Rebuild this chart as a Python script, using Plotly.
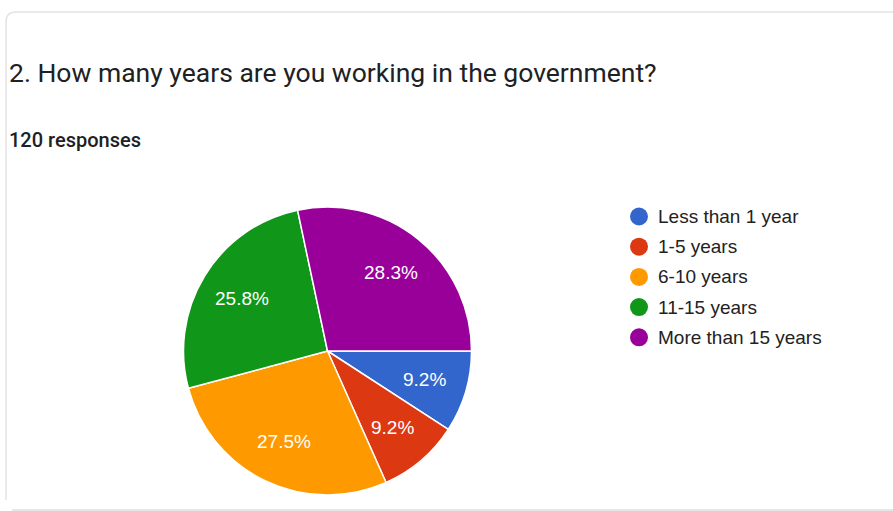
import math
import plotly.graph_objects as go

W, H = 893, 511

labels = ["Less than 1 year", "1-5 years", "6-10 years", "11-15 years", "More than 15 years"]
counts = [11, 11, 33, 31, 34]
colors = ["#3366cc", "#dc3912", "#ff9900", "#109618", "#990099"]
title_text = "2. How many years are you working in the government?"
subtitle_text = "120 responses"


def px(x):
    return x / W


def py(y):
    return 1 - y / H


# pie geometry (pixels)
pie_x0, pie_x1, pie_y0, pie_y1 = 183, 472, 207, 495
cx, cy = (pie_x0 + pie_x1) / 2, (pie_y0 + pie_y1) / 2
R = min(pie_x1 - pie_x0, pie_y1 - pie_y0) / 2

fig = go.Figure()
fig.add_trace(go.Pie(
    labels=labels,
    values=counts,
    sort=False,
    direction="clockwise",
    rotation=90,
    marker=dict(colors=colors, line=dict(color="white", width=1.5)),
    textinfo="none",
    domain=dict(x=[px(pie_x0), px(pie_x1)], y=[py(pie_y1), py(pie_y0)]),
    showlegend=False,
    hoverinfo="label+percent",
))

shapes = []
r = 10
shapes.append(dict(
    type="path", xref="paper", yref="paper",
    path=(f"M {px(6)},{py(500)} L {px(6)},{py(12 + r)} "
          f"Q {px(6)},{py(12)} {px(6 + r)},{py(12)} L {px(W + 5)},{py(12)}"),
    line=dict(color="#e3e3e3", width=1.5),
))
shapes.append(dict(
    type="line", xref="paper", yref="paper",
    x0=px(12), x1=px(W + 5), y0=py(510), y1=py(510),
    line=dict(color="#e6e6e6", width=2),
))

annotations = [
    dict(text=title_text, x=px(7), y=py(72), xref="paper", yref="paper",
         xanchor="left", yanchor="middle", showarrow=False,
         font=dict(family="Roboto", size=26.5, color="#202124")),
    dict(text=subtitle_text, x=px(7), y=py(140), xref="paper", yref="paper",
         xanchor="left", yanchor="middle", showarrow=False,
         font=dict(family="Roboto", size=20, color="#202124", weight=500)),
]

# percentage labels at the middle angle of each slice, 0.7 R from centre
total = sum(counts)
start = 0.0  # degrees clockwise from 3 o'clock
for v in counts:
    sweep = 360.0 * v / total
    mid = math.radians(start + sweep / 2)
    lx = cx + 0.7 * R * math.cos(mid)
    ly = cy + 0.7 * R * math.sin(mid)
    annotations.append(dict(
        text=f"{100 * v / total:.1f}%", x=px(lx), y=py(ly),
        xref="paper", yref="paper", xanchor="center", yanchor="middle",
        showarrow=False,
        font=dict(family="Liberation Sans, Arial", size=19, color="white"),
    ))
    start += sweep

# legend built from the category list
leg_x, leg_y0, leg_dy, dot_r = 639, 216.5, 30.2, 9
for i, (lab, col) in enumerate(zip(labels, colors)):
    yc = leg_y0 + i * leg_dy
    shapes.append(dict(
        type="circle", xref="paper", yref="paper",
        x0=px(leg_x - dot_r), x1=px(leg_x + dot_r),
        y0=py(yc + dot_r), y1=py(yc - dot_r),
        fillcolor=col, line=dict(width=0),
    ))
    annotations.append(dict(
        text=lab, x=px(656), y=py(yc), xref="paper", yref="paper",
        xanchor="left", yanchor="middle", showarrow=False,
        font=dict(family="Liberation Sans, Arial", size=19, color="#222222"),
    ))

fig.update_layout(
    width=W, height=H,
    margin=dict(l=0, r=0, t=0, b=0),
    paper_bgcolor="white",
    plot_bgcolor="white",
    shapes=shapes,
    annotations=annotations,
)

fig.write_html("out.html", config={"displayModeBar": False})
